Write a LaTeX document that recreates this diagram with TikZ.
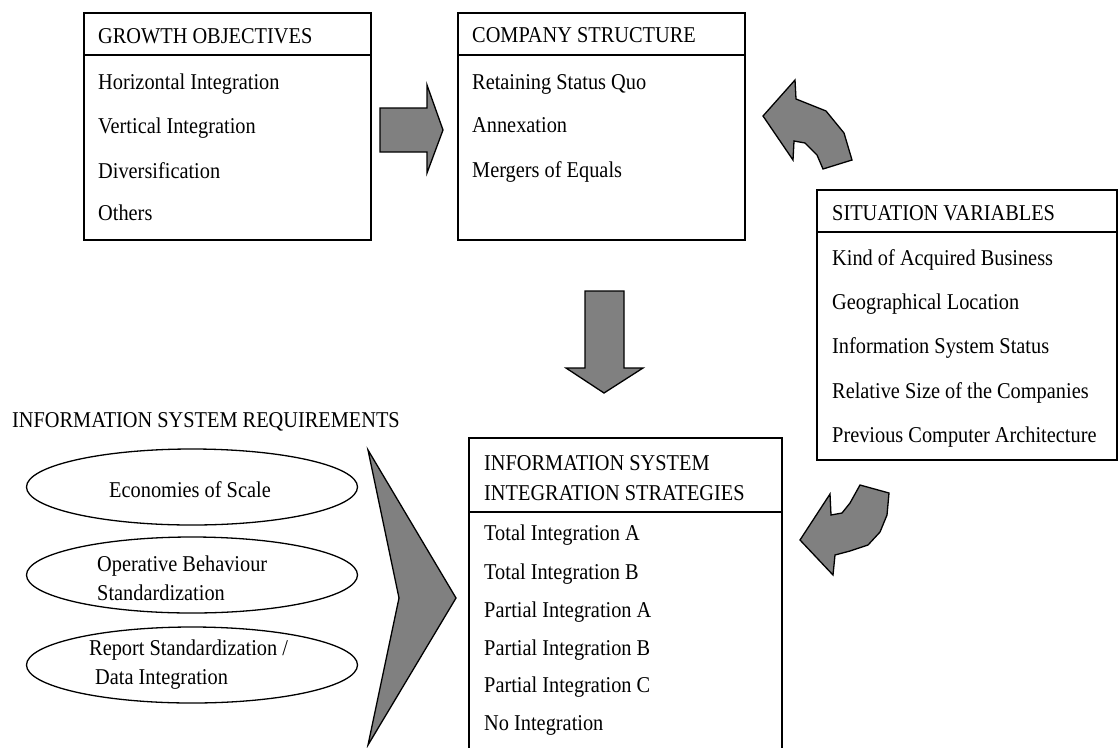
\documentclass[tikz,border=0pt]{standalone}
\usepackage{fontspec}
\setmainfont{Liberation Serif}[FakeStretch=0.9]
\usetikzlibrary{shapes.geometric}
\definecolor{arrowgray}{RGB}{128,128,128}
\begin{document}
\begin{tikzpicture}[x=1pt,y=-1pt,
  box/.style={draw, line width=1.6pt, anchor=north west, inner sep=0pt},
  sep/.style={line width=1.6pt},
  txt/.style={anchor=west, inner sep=0pt, font=\fontsize{22.6}{26}\selectfont, text height=15pt, text depth=0pt},
  garrow/.style={draw, line width=1.3pt, fill=arrowgray, line join=miter},
  ell/.style={draw, ellipse, line width=1.3pt, minimum width=331pt, minimum height=76pt, inner sep=0pt}]
\useasboundingbox (0,0) rectangle (1118,747);

% Growth objectives
\node[box, minimum width=287pt, minimum height=227pt] (go) at (83,12) {};
\draw[sep] (83,55) -- (370,55);
\node[txt] (goh) at (98,36) {GROWTH OBJECTIVES};
\node[txt] (go1) at (98,82) {Horizontal Integration};
\node[txt] (go2) at (98,126) {Vertical Integration};
\node[txt] (go3) at (98,171) {Diversification};
\node[txt] (go4) at (98,213) {Others};

% Company structure
\node[box, minimum width=287pt, minimum height=227pt] (cs) at (457,12) {};
\draw[sep] (457,55) -- (744,55);
\node[txt] (csh) at (472,35) {COMPANY STRUCTURE};
\node[txt] (cs1) at (472,82) {Retaining Status Quo};
\node[txt] (cs2) at (472,125) {Annexation};
\node[txt] (cs3) at (472,170) {Mergers of Equals};

% Situation variables
\node[box, minimum width=300pt, minimum height=270pt] (sv) at (816,189) {};
\draw[sep] (816,232) -- (1116,232);
\node[txt] (svh) at (832,213) {SITUATION VARIABLES};
\node[txt] (sv1) at (832,258) {Kind of Acquired Business};
\node[txt] (sv2) at (832,302) {Geographical Location};
\node[txt] (sv3) at (832,346) {Information System Status};
\node[txt] (sv4) at (832,391) {Relative Size of the Companies};
\node[txt] (sv5) at (832,435) {Previous Computer Architecture};

% Integration strategies
\node[box, minimum width=313pt, minimum height=320pt] (is) at (468,437) {};
\draw[sep] (468,512) -- (781,512);
\node[txt] (ish1) at (484,463) {INFORMATION SYSTEM};
\node[txt] (ish2) at (484,493) {INTEGRATION STRATEGIES};
\node[txt] (is1) at (484,533) {Total Integration A};
\node[txt] (is2) at (484,572) {Total Integration B};
\node[txt] (is3) at (484,610) {Partial Integration A};
\node[txt] (is4) at (484,648) {Partial Integration B};
\node[txt] (is5) at (484,685) {Partial Integration C};
\node[txt] (is6) at (484,723) {No Integration};

% Requirements
\node[txt] (req) at (12,420) {INFORMATION SYSTEM REQUIREMENTS};
\node[ell] (e1) at (192,487) {};
\node[ell] (e2) at (192,575) {};
\node[ell] (e3) at (192,665) {};
\node[txt, anchor=center] (e1t) at (190,490) {Economies of Scale};
\node[txt] (e2a) at (97,564) {Operative Behaviour};
\node[txt] (e2b) at (97,593) {Standardization};
\node[txt] (e3a) at (89,648) {Report Standardization /};
\node[txt] (e3b) at (95,677) {Data Integration};

% Block arrows
\draw[garrow] (380,108) -- (427,108) -- (427,85) -- (443,130) -- (427,173) -- (427,152) -- (380,152) -- cycle;
\draw[garrow] (585,291) -- (624,291) -- (624,368) -- (643,368) -- (604,393) -- (566,368) -- (585,368) -- cycle;
\draw[garrow] (763,116) -- (795,80) -- (796,99) -- (806,103) -- (826,111) -- (844,133) -- (852,160) -- (823,169) -- (817,155) -- (805,143) -- (794,141) -- (793,160) -- cycle;
\draw[garrow] (800,540) -- (830,494) -- (831,515) -- (842,513) -- (850,503) -- (860,485) -- (889,493) -- (887,515) -- (880,532) -- (868,545) -- (850,551) -- (835,555) -- (833,575) -- cycle;
\draw[garrow] (368,450) -- (456,598) -- (368,745) -- (399,598) -- cycle;
\end{tikzpicture}
\end{document}
